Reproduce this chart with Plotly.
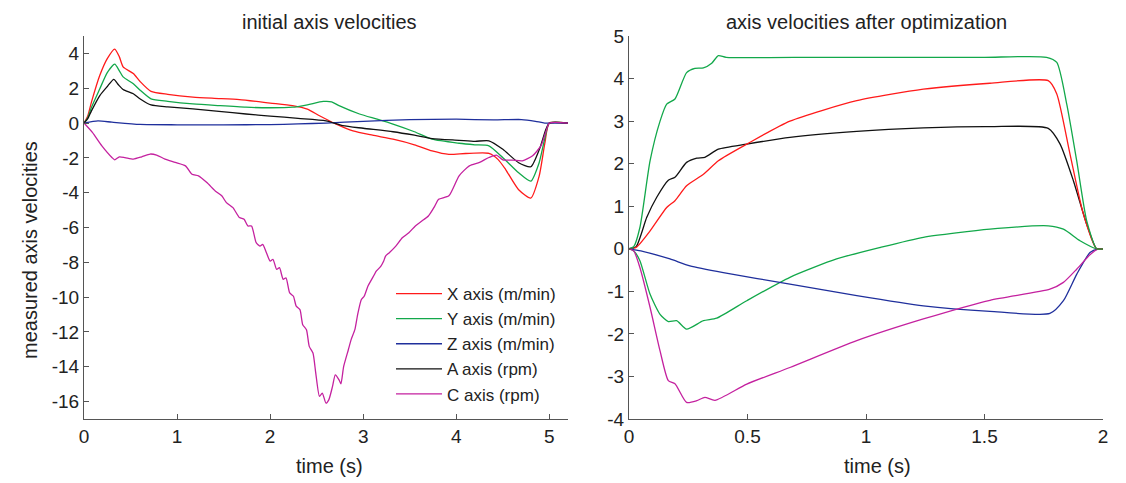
import plotly.graph_objects as go

# ---------------- left panel: initial axis velocities ----------------
t_x_init = [0, 0.04, 0.08, 0.17, 0.25, 0.33, 0.38, 0.42, 0.53, 0.6, 0.72, 0.9, 1.17, 1.4, 1.67, 2.0, 2.24, 2.4,
            2.53, 2.71, 2.89, 3.1, 3.32, 3.55, 3.74, 3.92, 4.1, 4.35, 4.45, 4.53, 4.67, 4.8, 4.89, 4.95, 5.0, 5.2]
x_init = [0, 0.4, 1.2, 2.74, 3.7, 4.25, 3.8, 3.23, 2.84, 2.4, 1.82, 1.65, 1.49, 1.42, 1.35, 1.15, 1.0, 0.8,
          0.42, -0.06, -0.45, -0.7, -0.93, -1.25, -1.6, -1.8, -1.75, -1.74, -2.1, -2.67, -3.83, -4.31, -3.05, -1.2, 0, 0]

t_y_init = [0, 0.04, 0.08, 0.17, 0.25, 0.33, 0.38, 0.42, 0.53, 0.6, 0.72, 0.9, 1.17, 1.45, 1.74, 2.0, 2.24, 2.4,
            2.57, 2.66, 2.74, 2.96, 3.15, 3.32, 3.55, 3.74, 4.03, 4.2, 4.35, 4.5, 4.67, 4.8, 4.89, 4.95, 5.0, 5.2]
y_init = [0, 0.3, 0.9, 1.97, 2.9, 3.38, 3.0, 2.65, 2.26, 1.9, 1.39, 1.25, 1.1, 1.0, 0.91, 0.88, 0.91, 1.05,
          1.24, 1.22, 1.0, 0.52, 0.22, -0.06, -0.5, -0.93, -1.16, -1.25, -1.31, -1.99, -2.86, -3.34, -2.28, -0.9, 0, 0]

t_z_init = [0, 0.15, 0.3, 0.6, 1.0, 1.5, 2.0, 2.3, 2.6, 3.0, 3.5, 4.0, 4.4, 4.7, 4.85, 4.95, 5.2]
z_init = [0, 0.12, 0.05, -0.08, -0.1, -0.1, -0.09, -0.05, 0.0, 0.1, 0.2, 0.22, 0.18, 0.2, 0.1, 0, 0]

t_a_init = [0, 0.04, 0.08, 0.17, 0.25, 0.32, 0.37, 0.42, 0.53, 0.6, 0.72, 0.9, 1.17, 1.45, 1.74, 2.0, 2.3, 2.6,
            2.78, 3.0, 3.32, 3.55, 3.74, 4.03, 4.2, 4.35, 4.5, 4.67, 4.8, 4.9, 4.96, 5.0, 5.2]
a_init = [0, 0.25, 0.7, 1.58, 2.1, 2.51, 2.2, 1.93, 1.68, 1.4, 1.04, 0.93, 0.81, 0.67, 0.52, 0.4, 0.27, 0.13,
          -0.15, -0.3, -0.5, -0.7, -0.89, -0.99, -1.05, -1.02, -1.51, -2.28, -2.51, -1.4, -0.4, 0, 0]

t_c_init = [0, 0.09, 0.19, 0.30, 0.33, 0.38, 0.44, 0.53, 0.62, 0.71, 0.78, 0.87, 0.98, 1.09, 1.16, 1.23, 1.32,
            1.41, 1.48, 1.53, 1.60, 1.67, 1.72, 1.76, 1.80, 1.85, 1.89, 1.92, 1.96, 2.0, 2.03, 2.07, 2.10, 2.14,
            2.17, 2.21, 2.25, 2.28, 2.32, 2.35, 2.39, 2.42, 2.46, 2.49, 2.53, 2.56, 2.60, 2.63, 2.67, 2.70, 2.74,
            2.76, 2.79, 2.84, 2.87, 2.91, 2.94, 2.98, 3.01, 3.05, 3.08, 3.12, 3.14, 3.19, 3.22, 3.24, 3.28, 3.35,
            3.42, 3.49, 3.56, 3.63, 3.70, 3.77, 3.81, 3.92, 4.03, 4.14, 4.25, 4.35, 4.43, 4.50, 4.61, 4.71, 4.82,
            4.91, 4.96, 5.0, 5.2]
c_init = [0, -0.54, -1.30, -1.98, -2.11, -1.94, -1.98, -2.07, -1.94, -1.78, -1.84, -2.07, -2.26, -2.46, -2.94,
          -3.03, -3.42, -3.90, -4.18, -4.57, -4.86, -5.43, -5.53, -5.91, -5.91, -6.87, -7.07, -6.97, -7.45, -7.93,
          -7.83, -8.41, -8.31, -8.98, -8.89, -9.76, -9.95, -10.52, -10.72, -11.58, -11.87, -12.83, -13.21, -14.36,
          -15.70, -15.51, -16.09, -15.9, -15.13, -14.46, -14.75, -14.98, -13.98, -13.02, -12.44, -11.87, -11.0,
          -10.14, -9.95, -9.37, -9.08, -8.70, -8.51, -8.22, -7.93, -7.64, -7.45, -7.07, -6.59, -6.30, -5.91, -5.63,
          -5.34, -4.76, -4.38, -4.18, -3.03, -2.46, -2.26, -1.98, -1.84, -2.11, -2.13, -2.17, -1.88, -1.30, -0.54,
          0, 0]

# ---------------- right panel: after optimization ----------------
t_y_opt = [0, 0.02, 0.046, 0.089, 0.131, 0.159, 0.194, 0.243, 0.278, 0.314, 0.349, 0.377, 0.41, 0.8, 1.2, 1.5,
           1.762, 1.805, 1.847, 1.889, 1.931, 1.973, 2.0]
y_opt = [0, 0.05, 0.5, 2.07, 3.0, 3.4, 3.52, 4.14, 4.24, 4.25, 4.36, 4.54, 4.5, 4.5, 4.5, 4.5,
         4.5, 4.38, 3.4, 2.07, 0.66, 0, 0]

t_x_opt = [0, 0.03, 0.089, 0.159, 0.194, 0.243, 0.314, 0.377, 0.497, 0.679, 0.961, 1.242, 1.523, 1.769, 1.805,
           1.861, 1.917, 1.973, 2.0]
x_opt = [0, 0.03, 0.42, 0.97, 1.13, 1.48, 1.75, 2.07, 2.46, 3.0, 3.48, 3.75, 3.89, 3.95, 3.64,
         2.22, 0.82, 0, 0]

t_a_opt = [0, 0.03, 0.075, 0.117, 0.166, 0.194, 0.243, 0.286, 0.32, 0.377, 0.497, 0.679, 0.961, 1.242, 1.523,
           1.769, 1.819, 1.875, 1.931, 1.973, 2.0]
a_opt = [0, 0.05, 0.74, 1.21, 1.61, 1.68, 2.03, 2.13, 2.15, 2.34, 2.46, 2.62, 2.76, 2.84, 2.87,
         2.83, 2.46, 1.6, 0.58, 0, 0]

t_y2_opt = [0, 0.02, 0.046, 0.089, 0.131, 0.166, 0.201, 0.243, 0.314, 0.37, 0.497, 0.679, 0.876, 1.059, 1.242,
            1.523, 1.769, 1.833, 1.903, 1.973, 2.0]
y2_opt = [0, -0.05, -0.28, -1.07, -1.54, -1.71, -1.69, -1.89, -1.69, -1.63, -1.22, -0.67, -0.24, 0.03, 0.27,
          0.46, 0.54, 0.46, 0.19, 0, 0]

t_z_opt = [0, 0.05, 0.173, 0.257, 0.398, 0.679, 0.961, 1.242, 1.523, 1.776, 1.833, 1.889, 1.945, 1.98, 2.0]
z_opt = [0, -0.05, -0.24, -0.4, -0.56, -0.83, -1.1, -1.34, -1.47, -1.52, -1.22, -0.6, -0.09, 0, 0]

t_c_opt = [0, 0.02, 0.046, 0.089, 0.131, 0.166, 0.194, 0.243, 0.286, 0.32, 0.363, 0.497, 0.679, 0.961, 1.242,
           1.523, 1.776, 1.833, 1.889, 1.945, 1.98, 2.0]
c_opt = [0, -0.05, -0.44, -1.38, -2.4, -3.1, -3.17, -3.61, -3.57, -3.49, -3.56, -3.18, -2.79, -2.16, -1.65,
         -1.21, -0.95, -0.79, -0.48, -0.14, 0, 0]

legend_names = ["X axis (m/min)", "Y axis (m/min)", "Z axis (m/min)", "A axis (rpm)", "C axis (rpm)"]
colors = ["#ff1a1a", "#12a84a", "#1f2f9c", "#111111", "#c4219f"]

left_ticks = [4, 2, 0, -2, -4, -6, -8, -10, -12, -14, -16]
left_ticktext = ["4", "2", "0", "-2", "-4", "-6", "-8", "-10", "-12", "-14", "-16"]
right_ticks = [5, 4, 3, 2, 1, 0, -1, -2, -3, -4]
right_ticktext = ["5", "4", "3", "2", "1", "0", "-1", "-2", "-3", "-4"]
left_xticks = [0, 1, 2, 3, 4, 5]
right_xticks = [0, 0.5, 1, 1.5, 2]
right_xticktext = ["0", "0.5", "1", "1.5", "2"]

FONT = "Liberation Sans, Arial, sans-serif"
TXT = "#222222"
LW = 1.3

fig = go.Figure()
left_series = [(t_x_init, x_init), (t_y_init, y_init), (t_z_init, z_init), (t_a_init, a_init), (t_c_init, c_init)]
for (tt, vv), name, col in zip(left_series, legend_names, colors):
    fig.add_trace(go.Scatter(x=tt, y=vv, mode="lines", name=name,
                             line=dict(color=col, width=LW, shape="spline", smoothing=0.6),
                             xaxis="x", yaxis="y", showlegend=True))

right_series = [(t_y2_opt, y2_opt, colors[1]), (t_z_opt, z_opt, colors[2]), (t_c_opt, c_opt, colors[4]),
                (t_a_opt, a_opt, colors[3]), (t_x_opt, x_opt, colors[0]), (t_y_opt, y_opt, colors[1])]
for tt, vv, col in right_series:
    fig.add_trace(go.Scatter(x=tt, y=vv, mode="lines",
                             line=dict(color=col, width=LW, shape="spline", smoothing=0.6),
                             xaxis="x2", yaxis="y2", showlegend=False))

axis_common = dict(showline=True, linecolor="#555555", linewidth=1.2, ticks="inside", ticklen=5,
                   tickcolor="#555555", showgrid=False, zeroline=False,
                   tickfont=dict(family=FONT, size=19, color=TXT))

# page has an 8px body margin: figure starts at page (8, 8)
OFF = 8
W, H = 1126 - OFF, 483 - OFF
ml, mr, mt, mb = 84 - OFF, 23, 36 - OFF, 64
pw = W - ml - mr
ph = H - mt - mb

def px_x(p):
    return (p - OFF - ml) / pw

def px_y(p):
    return (H - mb - (p - OFF)) / ph

fig.update_layout(
    width=W, height=H,
    margin=dict(l=ml, r=mr, t=mt, b=mb),
    paper_bgcolor="white", plot_bgcolor="white",
    font=dict(family=FONT, size=19, color=TXT),
    xaxis=dict(domain=[0, px_x(568)], range=[0, 5.2], tickvals=left_xticks, anchor="y", **axis_common),
    yaxis=dict(range=[-17, 5], tickvals=left_ticks, ticktext=left_ticktext, anchor="x", **axis_common),
    xaxis2=dict(domain=[px_x(629), 1], range=[0, 2], tickvals=right_xticks, ticktext=right_xticktext,
                anchor="y2", **axis_common),
    yaxis2=dict(range=[-4, 5], tickvals=right_ticks, ticktext=right_ticktext, anchor="x2", **axis_common),
    legend=dict(x=px_x(391), y=px_y(276), xanchor="left", yanchor="top",
                bgcolor="rgba(0,0,0,0)", font=dict(family=FONT, size=17, color=TXT),
                tracegroupgap=0, itemwidth=46),
    showlegend=True,
)

annos = [
    dict(text="initial axis velocities", x=px_x(329), y=px_y(22), size=20),
    dict(text="axis velocities after optimization", x=px_x(866), y=px_y(22), size=20),
    dict(text="time (s)", x=px_x(329), y=px_y(466), size=20),
    dict(text="time (s)", x=px_x(877), y=px_y(466), size=20),
    dict(text="measured axis velocities", x=px_x(30), y=px_y(250), textangle=-90, size=20),
]
for a in annos:
    sz = a.pop("size")
    fig.add_annotation(xref="paper", yref="paper", showarrow=False, xanchor="center", yanchor="middle",
                       font=dict(family=FONT, size=sz, color=TXT), **a)

fig.write_html("out.html")
